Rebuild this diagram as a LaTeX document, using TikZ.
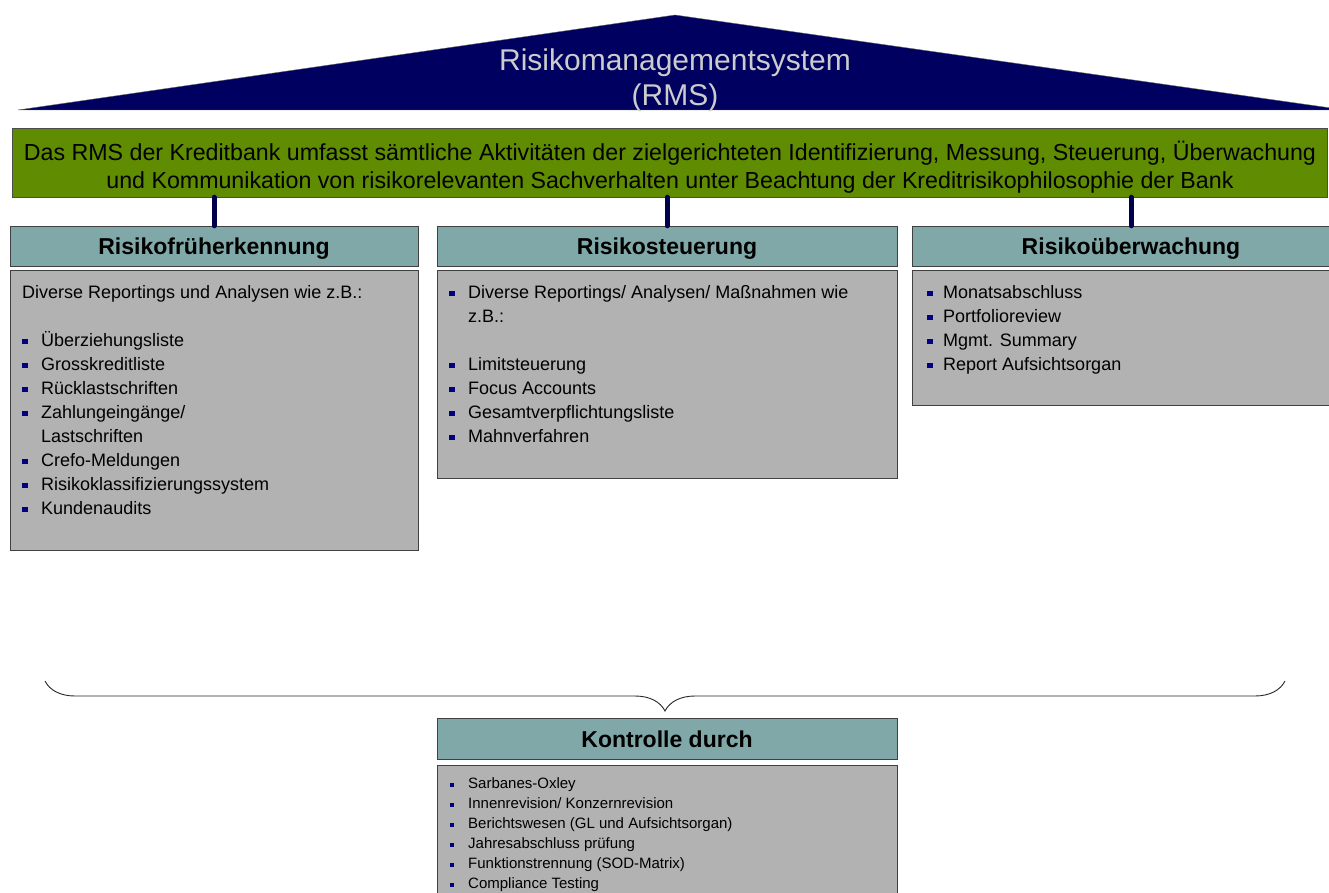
\documentclass[tikz,border=0pt]{standalone}
\usepackage{fontspec}
\setmainfont{Liberation Sans}
\usetikzlibrary{positioning,decorations.pathreplacing,calc}

\definecolor{rmsnavy}{RGB}{0,0,96}
\definecolor{rmsgreen}{RGB}{95,140,0}
\definecolor{rmsteal}{RGB}{128,168,168}
\definecolor{rmsgray}{RGB}{178,178,178}
\definecolor{bulnavy}{RGB}{0,0,128}
\newcommand{\bul}{\makebox[19pt][l]{\textcolor{bulnavy}{\rule[2pt]{5.5pt}{5.5pt}}}}
\newcommand{\bulr}{\makebox[16pt][l]{\textcolor{bulnavy}{\rule[2pt]{5.5pt}{5.5pt}}}}
\newcommand{\bulk}{\makebox[18pt][l]{\textcolor{bulnavy}{\rule[1.5pt]{4pt}{4pt}}}}
\newcommand{\cont}{\hspace*{19pt}}

\begin{document}
\begin{tikzpicture}[x=1pt,y=-1pt,
    head/.style={draw=black!75, fill=rmsteal, minimum height=40pt, inner sep=0pt,
                 text height=20pt, text depth=3pt,
                 font=\fontsize{23}{27}\selectfont\bfseries},
    body/.style={draw=black!75, fill=rmsgray, inner sep=0pt},
    list/.style={anchor=north west, inner sep=0pt, align=left,
                 font=\fontsize{18}{24}\selectfont},
    link/.style={line width=5pt, draw=rmsnavy!80!black, line cap=round}]

    \clip (0,0) rectangle (1329,893);

    % roof
    \draw[fill=rmsnavy, draw=black!60] (18,110) -- (675,15) -- (1345,110) -- cycle;
    \node[align=center, text=black!20, font=\fontsize{30}{35}\selectfont] (title) at (675,80)
        {Risikomanagementsystem\\(RMS)};

    % definition bar
    \node[draw=black!70, fill=rmsgreen, minimum width=1315pt, minimum height=69pt,
          inner sep=0pt] (rmsdef) at (669.5,162.5) {};
    \node[align=center, inner sep=0pt, font=\fontsize{23.2}{28}\selectfont] (rmstext) at (670,167)
        {Das RMS der Kreditbank umfasst sämtliche Aktivitäten der zielgerichteten Identifizierung, Messung, Steuerung, Überwachung\\
         und Kommunikation von risikorelevanten Sachverhalten unter Beachtung der Kreditrisikophilosophie der Bank};

    % three pillars
    \node[head, minimum width=408pt] (frueh) at (214,246) {Risikofrüherkennung};
    \node[head, minimum width=460pt] (steuer) at (667,246) {Risikosteuerung};
    \node[head, minimum width=438pt] (ueber) at (1131,246) {Risikoüberwachung};

    \node[body, minimum width=408pt, minimum height=280pt] (fruehbox) at (214,410) {};
    \node[body, minimum width=460pt, minimum height=208pt] (steuerbox) at (667,374) {};
    \node[body, minimum width=438pt, minimum height=135pt] (ueberbox) at (1131,337.5) {};

    \node[list] (fruehlist) at (22,285)
        {Diverse Reportings und Analysen wie z.B.:\\[24pt]
         \bul Überziehungsliste\\
         \bul Grosskreditliste\\
         \bul Rücklastschriften\\
         \bul Zahlungeingänge/\\
         \cont Lastschriften\\
         \bul Crefo-Meldungen\\
         \bul Risikoklassifizierungssystem\\
         \bul Kundenaudits};
    \node[list] (steuerlist) at (449,285)
        {\bul Diverse Reportings/ Analysen/ Maßnahmen wie\\
         \cont z.B.:\\[24pt]
         \bul Limitsteuerung\\
         \bul Focus Accounts\\
         \bul Gesamtverpflichtungsliste\\
         \bul Mahnverfahren};
    \node[list] (ueberlist) at (927,285)
        {\bulr Monatsabschluss\\
         \bulr Portfolioreview\\
         \bulr Mgmt. Summary\\
         \bulr Report Aufsichtsorgan};

    \draw[link] (rmsdef.south -| frueh.north) -- (frueh.north);
    \draw[link] (rmsdef.south -| steuer.north) -- (steuer.north);
    \draw[link] (rmsdef.south -| ueber.north) -- (ueber.north);

    % control
    \draw[decorate, decoration={brace, mirror, amplitude=30pt}, draw=black!85, line width=0.9pt]
        (45,681) -- (1285,681);

    \node[head, minimum width=460pt, minimum height=41pt] (kontr) at (667,738.5) {Kontrolle durch};
    \node[body, minimum width=460pt, minimum height=140pt] (kontrbox) at (667,835) {};
    \node[list, font=\fontsize{15}{20}\selectfont] (kontrlist) at (450,777)
        {\bulk Sarbanes-Oxley\\
         \bulk Innenrevision/ Konzernrevision\\
         \bulk Berichtswesen (GL und Aufsichtsorgan)\\
         \bulk Jahresabschluss prüfung\\
         \bulk Funktionstrennung (SOD-Matrix)\\
         \bulk Compliance Testing};
\end{tikzpicture}
\end{document}
